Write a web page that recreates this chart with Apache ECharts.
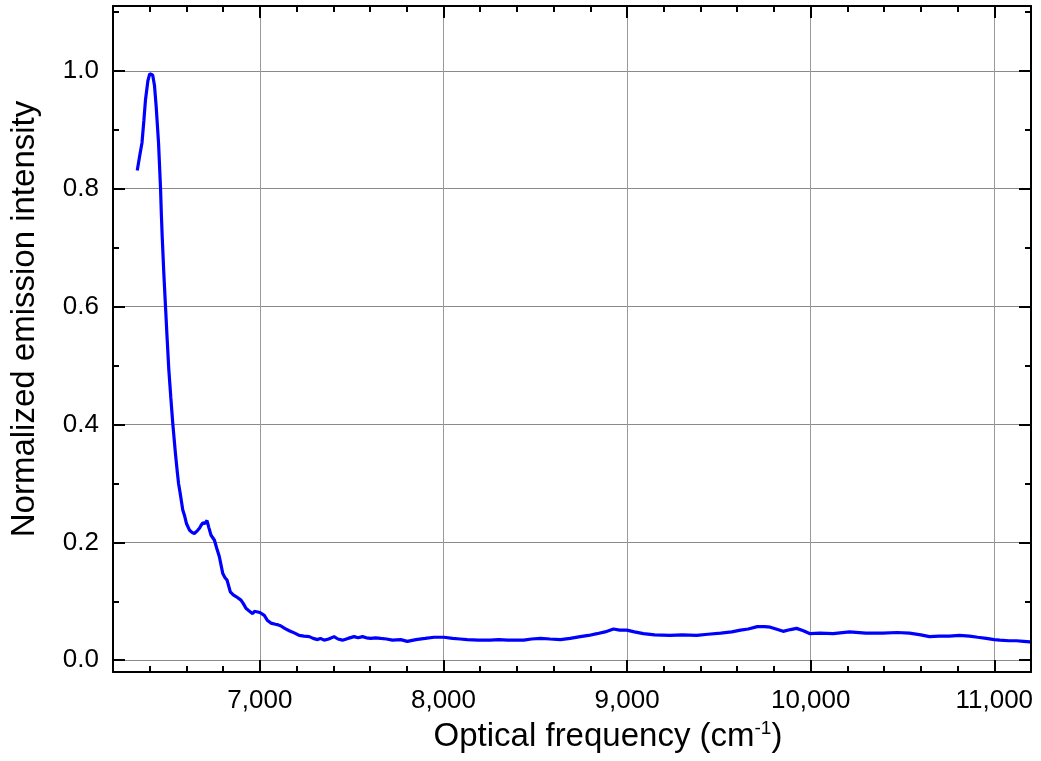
<!DOCTYPE html>
<html>
<head>
<meta charset="utf-8">
<script src="https://cdn.jsdelivr.net/npm/echarts@6/dist/echarts.min.js"></script>
<style>
html,body{margin:0;padding:0;background:#fff;}
#chart{width:1041px;height:761px;}
</style>
</head>
<body>
<div id="chart"></div>
<script>
// Optical frequency (cm^-1)
var freq = [6332,6345,6358,6368,6377,6390,6400,6408,6416,6426,6435,6448,6459,6463,6468,6477,6486,6495,6504,6515,6526,6540,6550,6557,6565,6575,6580,6589,6600,6616,6630,6643,6660,6671,6680,6689,6700,6712,6722,6734,6752,6765,6779,6798,6810,6821,6839,6855,6870,6897,6910,6924,6940,6961,6970,6979,7000,7024,7040,7060,7085,7100,7115,7135,7160,7190,7214,7240,7269,7290,7314,7330,7350,7375,7404,7425,7450,7480,7513,7535,7559,7580,7604,7630,7658,7690,7722,7767,7803,7850,7900,7948,8002,8050,8090,8129,8190,8256,8300,8350,8400,8437,8480,8529,8580,8637,8690,8745,8790,8836,8880,8926,8960,8999,9040,9089,9150,9234,9300,9379,9440,9510,9570,9618,9660,9709,9750,9780,9820,9850,9890,9923,9960,9997,10050,10122,10212,10300,10393,10470,10538,10600,10647,10700,10756,10810,10865,10910,10956,11000,11030,11080,11121,11160,11195];
// Normalized emission intensity
var intensity = [0.831,0.855,0.878,0.915,0.951,0.983,0.995,0.998,0.993,0.975,0.940,0.878,0.800,0.760,0.719,0.655,0.600,0.545,0.493,0.445,0.400,0.351,0.320,0.300,0.285,0.265,0.255,0.246,0.232,0.221,0.217,0.215,0.220,0.224,0.229,0.233,0.232,0.237,0.225,0.212,0.204,0.190,0.176,0.147,0.140,0.136,0.116,0.111,0.108,0.102,0.096,0.088,0.084,0.079,0.083,0.085,0.081,0.076,0.068,0.063,0.061,0.060,0.058,0.054,0.050,0.046,0.042,0.041,0.040,0.037,0.035,0.037,0.034,0.036,0.040,0.036,0.034,0.037,0.040,0.038,0.040,0.038,0.037,0.038,0.037,0.036,0.034,0.035,0.032,0.035,0.037,0.039,0.039,0.037,0.036,0.035,0.034,0.034,0.035,0.034,0.034,0.034,0.036,0.037,0.036,0.035,0.037,0.040,0.042,0.045,0.048,0.053,0.051,0.051,0.048,0.045,0.043,0.042,0.043,0.042,0.044,0.046,0.048,0.051,0.053,0.057,0.057,0.056,0.052,0.049,0.052,0.054,0.050,0.045,0.046,0.045,0.048,0.046,0.046,0.047,0.046,0.043,0.040,0.041,0.041,0.042,0.041,0.039,0.037,0.035,0.034,0.033,0.033,0.032,0.031];
var xMajorLabels = [7000, 8000, 9000, 10000, 11000];
var yMajorLabels = [0, 0.2, 0.4, 0.6, 0.8, 1.0];

var FONT = '"Liberation Sans", Arial, Helvetica, sans-serif';
var X_MIN = 6200, X_MAX = 11200, Y_MIN = -0.02, Y_MAX = 1.11;

var pts = freq.map(function (f, i) { return [f, intensity[i]]; });

function xLabel(v) {
  if (xMajorLabels.indexOf(Math.round(v)) < 0) return '';
  return Math.round(v).toLocaleString('en-US');
}
function yLabel(v) {
  for (var i = 0; i < yMajorLabels.length; i++) {
    if (Math.abs(v - yMajorLabels[i]) < 1e-6) return yMajorLabels[i].toFixed(1);
  }
  return '';
}

var black = '#000';
var chart = echarts.init(document.getElementById('chart'), null, {renderer: 'canvas'});
var option = {
  animation: false,
  backgroundColor: '#fff',
  grid: {left: 112, right: 10, top: 6, bottom: 89, containLabel: false},
  xAxis: [
    { // main bottom
      type: 'value', min: X_MIN, max: X_MAX, splitNumber: 5, position: 'bottom',
      axisLine: {show: true, onZero: false, lineStyle: {color: black, width: 2}},
      axisTick: {show: true, inside: true, length: 12, lineStyle: {color: black, width: 2}},
      axisLabel: {show: true, margin: 16, formatter: xLabel, color: black, fontSize: 26, fontFamily: FONT},
      splitLine: {show: true, lineStyle: {color: '#9a9a9a', width: 1}},
      name: '{a|Optical frequency (cm}{s|-1}{a|)}',
      nameLocation: 'middle', nameGap: 43,
      nameTextStyle: {
        padding: [0, 0, 0, 72],
        rich: {
          a: {fontSize: 33, fontFamily: FONT, color: black, lineHeight: 37},
          s: {fontSize: 19, fontFamily: FONT, color: black, verticalAlign: 'top', lineHeight: 20}
        }
      }
    },
    { // minor bottom
      type: 'value', min: X_MIN, max: X_MAX, interval: 200, position: 'bottom',
      axisLine: {show: false, onZero: false},
      axisTick: {show: true, inside: true, length: 6, lineStyle: {color: black, width: 2}},
      axisLabel: {show: false}, splitLine: {show: false}
    },
    { // main top
      type: 'value', min: X_MIN, max: X_MAX, splitNumber: 5, position: 'top',
      axisLine: {show: true, onZero: false, lineStyle: {color: black, width: 2}},
      axisTick: {show: true, inside: true, length: 12, lineStyle: {color: black, width: 2}},
      axisLabel: {show: false}, splitLine: {show: false}
    },
    { // minor top
      type: 'value', min: X_MIN, max: X_MAX, interval: 200, position: 'top',
      axisLine: {show: false, onZero: false},
      axisTick: {show: true, inside: true, length: 6, lineStyle: {color: black, width: 2}},
      axisLabel: {show: false}, splitLine: {show: false}
    }
  ],
  yAxis: [
    { // main left
      type: 'value', min: Y_MIN, max: Y_MAX, splitNumber: 5, position: 'left',
      axisLine: {show: true, onZero: false, lineStyle: {color: black, width: 2}},
      axisTick: {show: true, inside: true, length: 12, lineStyle: {color: black, width: 2}},
      axisLabel: {show: true, margin: 14, formatter: yLabel, color: black, fontSize: 26, fontFamily: FONT},
      splitLine: {show: true, lineStyle: {color: '#8a8a8a', width: 1}},
      name: 'Normalized emission intensity',
      nameLocation: 'middle', nameGap: 72,
      nameTextStyle: {fontSize: 33, fontFamily: FONT, color: black, padding: [0, 0, 0, 40]}
    },
    { // minor left
      type: 'value', min: Y_MIN, max: Y_MAX, splitNumber: 11, position: 'left',
      axisLine: {show: false, onZero: false},
      axisTick: {show: true, inside: true, length: 6, lineStyle: {color: black, width: 2}},
      axisLabel: {show: false}, splitLine: {show: false}
    },
    { // main right
      type: 'value', min: Y_MIN, max: Y_MAX, splitNumber: 5, position: 'right',
      axisLine: {show: true, onZero: false, lineStyle: {color: black, width: 2}},
      axisTick: {show: true, inside: true, length: 12, lineStyle: {color: black, width: 2}},
      axisLabel: {show: false}, splitLine: {show: false}
    },
    { // minor right
      type: 'value', min: Y_MIN, max: Y_MAX, splitNumber: 11, position: 'right',
      axisLine: {show: false, onZero: false},
      axisTick: {show: true, inside: true, length: 6, lineStyle: {color: black, width: 2}},
      axisLabel: {show: false}, splitLine: {show: false}
    }
  ],
  series: [{
    type: 'line', xAxisIndex: 0, yAxisIndex: 0,
    data: pts, showSymbol: false, symbol: 'none', smooth: false,
    lineStyle: {color: '#0000ff', width: 3.2},
    clip: true
  }]
};
chart.setOption(option);
</script>
</body>
</html>
